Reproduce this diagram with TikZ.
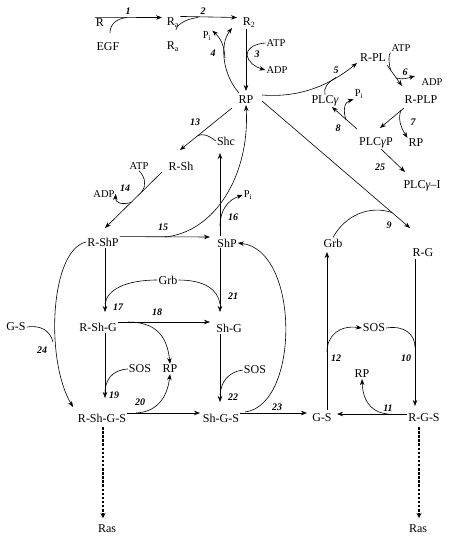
\documentclass[tikz,border=0pt]{standalone}
\usepackage{fontspec}
\setmainfont{Liberation Serif}
\usetikzlibrary{arrows.meta}
\tikzset{
 lbl/.style={font=\fontsize{12}{12}\selectfont, inner sep=1pt},
 sm/.style={font=\fontsize{10.5}{10.5}\selectfont, inner sep=1pt},
 num/.style={font=\fontsize{10}{10}\selectfont\bfseries\itshape, inner sep=0pt},
 arr/.style={-{Stealth[length=6pt,width=4.5pt]}, line width=0.6pt},
 ln/.style={line width=0.6pt},
 rasarrow/.style={line width=1.7pt, dash pattern=on 2.5pt off 1.6pt, -{Stealth[length=5pt,width=5pt]}}
}
\begin{document}
\begin{tikzpicture}[x=1pt,y=-1pt]
\useasboundingbox (0,0) rectangle (455,543);
% ---------- nodes ----------
\node[lbl] (R) at (100,22.5) {R};
\node[lbl] (EGF) at (108,47) {EGF};
\node[lbl] (Raa) at (173,22.5) {R\textsubscript{a}};
\node[lbl] (Rab) at (173,47) {R\textsubscript{a}};
\node[lbl] (Rtwo) at (249,22.5) {R\textsubscript{2}};
\node[sm] (ATPa) at (276,43) {ATP};
\node[sm] (ADPa) at (277,70) {ADP};
\node[sm] (Pia) at (207,36) {P\textsubscript{i}};
\node[lbl] (RP) at (246,100) {RP};
\node[lbl] (RPL) at (373,58) {R-PL};
\node[sm] (ATPb) at (401,48) {ATP};
\node[sm] (ADPb) at (432,82) {ADP};
\node[lbl] (RPLP) at (421,100) {R-PLP};
\node[lbl] (PLCg) at (325,101) {PLC\textit{γ}};
\node[sm] (Pib) at (359,94) {P\textsubscript{i}};
\node[lbl] (PLCgP) at (376,143) {PLC\textit{γ}P};
\node[lbl] (RPb) at (416,143) {RP};
\node[lbl] (PLCgI) at (422,186) {PLC\textit{γ}–I};
\node[lbl] (Shc) at (226,141) {Shc};
\node[lbl] (RSh) at (181,166) {R-Sh};
\node[sm] (ATPc) at (139,166) {ATP};
\node[sm] (ADPc) at (104,194) {ADP};
\node[sm] (Pic) at (248,195) {P\textsubscript{i}};
\node[lbl] (RShP) at (103,242) {R-ShP};
\node[lbl] (ShP) at (227,243) {ShP};
\node[lbl] (Grba) at (168,280) {Grb};
\node[lbl] (Grbb) at (333,243) {Grb};
\node[lbl] (RG) at (423,253) {R-G};
\node[lbl] (GSa) at (16,327) {G-S};
\node[lbl] (RShG) at (98,327) {R-Sh-G};
\node[lbl] (ShG) at (229,328) {Sh-G};
\node[lbl] (SOSc) at (374,328) {SOS};
\node[lbl] (SOSa) at (140,369) {SOS};
\node[lbl] (RPc) at (170,369) {RP};
\node[lbl] (SOSb) at (255,370) {SOS};
\node[lbl] (RPd) at (362,374) {RP};
\node[lbl] (RShGS) at (102,418) {R-Sh-G-S};
\node[lbl] (ShGS) at (221,418) {Sh-G-S};
\node[lbl] (GSb) at (322,418) {G-S};
\node[lbl] (RGS) at (424,418) {R-G-S};
\node[lbl] (Rasa) at (107,529) {Ras};
\node[lbl] (Rasb) at (418,529) {Ras};
% ---------- reaction numbers ----------
\node[num] at (128,11) {1};
\node[num] at (203,11) {2};
\node[num] at (257,54) {3};
\node[num] at (213,53) {4};
\node[num] at (336,70) {5};
\node[num] at (405,72) {6};
\node[num] at (413,122) {7};
\node[num] at (338,128) {8};
\node[num] at (389,225) {9};
\node[num] at (406,358) {10};
\node[num] at (388,408) {11};
\node[num] at (336,358) {12};
\node[num] at (195,122) {13};
\node[num] at (125,188) {14};
\node[num] at (163,227) {15};
\node[num] at (233,217) {16};
\node[num] at (118,307) {17};
\node[num] at (157,312) {18};
\node[num] at (114,395) {19};
\node[num] at (140,402) {20};
\node[num] at (233,296) {21};
\node[num] at (233,397) {22};
\node[num] at (277,407) {23};
\node[num] at (42,350) {24};
\node[num] at (380,167) {25};
% ---------- connectors ----------
% 1
\draw[arr] (R.north west) -- (162,17.5);
\draw[ln] ([shift={(2,-9)}]EGF.north) .. controls (110,24) and (117,18.5) .. (127,17.5);
% 2
\draw[arr] (Raa.north east) -- (237,17.5);
\draw[ln] ([shift={(3,-11)}]Rab.north) .. controls (176,26) and (184,19) .. (198,17.5);
% 3
\draw[arr] (246,29) -- (246,91);
\draw[arr] (ATPa.west) .. controls (252,44) and (247,50) .. (247,55) .. controls (248,62) and (255,67) .. (ADPa.west);
% 4
\draw[arr] (239,93) .. controls (223,75) and (219,45) .. (232,28);
\draw[arr] (225,58) .. controls (224,46) and (222,40) .. (Pia.north east);
% 5
\draw[arr] (262,95) .. controls (300,98) and (330,85) .. (357,63);
\draw[ln] (PLCg.north) .. controls (323,88) and (328,82) .. (336,77.5);
% 6
\draw[arr] (387,65) -- (402,86);
\draw[ln] (ATPb.south west) .. controls (389,54) and (388,60) .. (390.6,70);
\draw[arr] (396.3,78) .. controls (403,80) and (408,78) .. (415,76);
% 7
\draw[arr] (404,108) -- (380,128);
\draw[arr] (401,110) .. controls (398,118) and (400,126) .. (RPb.north west);
% 8
\draw[arr] (357,129) -- (332,107);
\draw[arr] (346,120) .. controls (343,111) and (344,102) .. (Pib.south west);
% 25
\draw[arr] (381,149) -- (405,172);
% 9
\draw[arr] (262,101) -- (410,228);
\draw[ln] (Grbb.north) .. controls (345,215) and (370,205) .. (392,212.6);
% 10
\draw[arr] (415,259) -- (415,406);
\draw[ln] (SOSc.east) .. controls (405,325) and (415,335) .. (415,347);
% 11
\draw[arr] (RGS.west |- 0,414) -- (337,414);
\draw[arr] (388,414) .. controls (375,413) and (363,405) .. (RPd.south);
% 12
\draw[arr] (327,410) -- (327,252);
\draw[arr] (327,352) .. controls (327,335) and (340,325) .. (SOSc.west);
% 23
\draw[arr] (ShGS.east |- 0,413) -- (307,413);
\draw[arr] (245,412) .. controls (300,405) and (300,250) .. (ShP.east);
% 20
\draw[arr] (RShGS.east |- 0,413) -- (200,413);
\draw[arr] (136,413) .. controls (155,412) and (167,400) .. (RPc.south);
% 19
\draw[arr] (105,333) -- (105,398);
\draw[ln] (SOSa.west) .. controls (112,370) and (105,380) .. (105,393);
% 18
\draw[arr] (RShG.east |- 0,322) -- (210,322);
\draw[arr] (128,322) .. controls (155,322) and (167,335) .. (RPc.north);
% 17
\draw[arr] (105,248) -- (105,312);
\draw[ln] (Grba.west) .. controls (125,280) and (107,290) .. (105,304);
% 21
\draw[arr] (220,248) -- (220,312);
\draw[ln] (Grba.east) .. controls (205,280) and (218,290) .. (220,304);
% 22
\draw[arr] (220,334) -- (220,402);
\draw[ln] (SOSb.west) .. controls (228,372) and (221,382) .. (220,395);
% 15
\draw[arr] (RShP.north east) -- (210,237);
\draw[arr] (165,237) .. controls (215,232) and (250,175) .. (RP.south);
% 16
\draw[arr] (220,236) -- (220,153);
\draw[arr] (220,226) .. controls (220,210) and (228,200) .. (Pic.west);
% 13
\draw[arr] (232,108) -- (180,150);
\draw[ln] (Shc.west) .. controls (207,134) and (202,134) .. (198,135.5);
% 14
\draw[arr] (162,172) -- (105,228);
\draw[ln] (ATPc.south) .. controls (146,178) and (146,186) .. (142,191.6);
\draw[arr] (131,202.5) .. controls (122,205) and (115,203) .. (ADPc.east);
% 24
\draw[arr] (RShP.west) .. controls (50,250) and (45,360) .. (73,407);
\draw[ln] (GSa.east) .. controls (40,325) and (50,330) .. (53,342);
% Ras
\draw[rasarrow] (103,427) -- (103,518);
\draw[rasarrow] (419,427) -- (419,518);
\end{tikzpicture}
\end{document}
